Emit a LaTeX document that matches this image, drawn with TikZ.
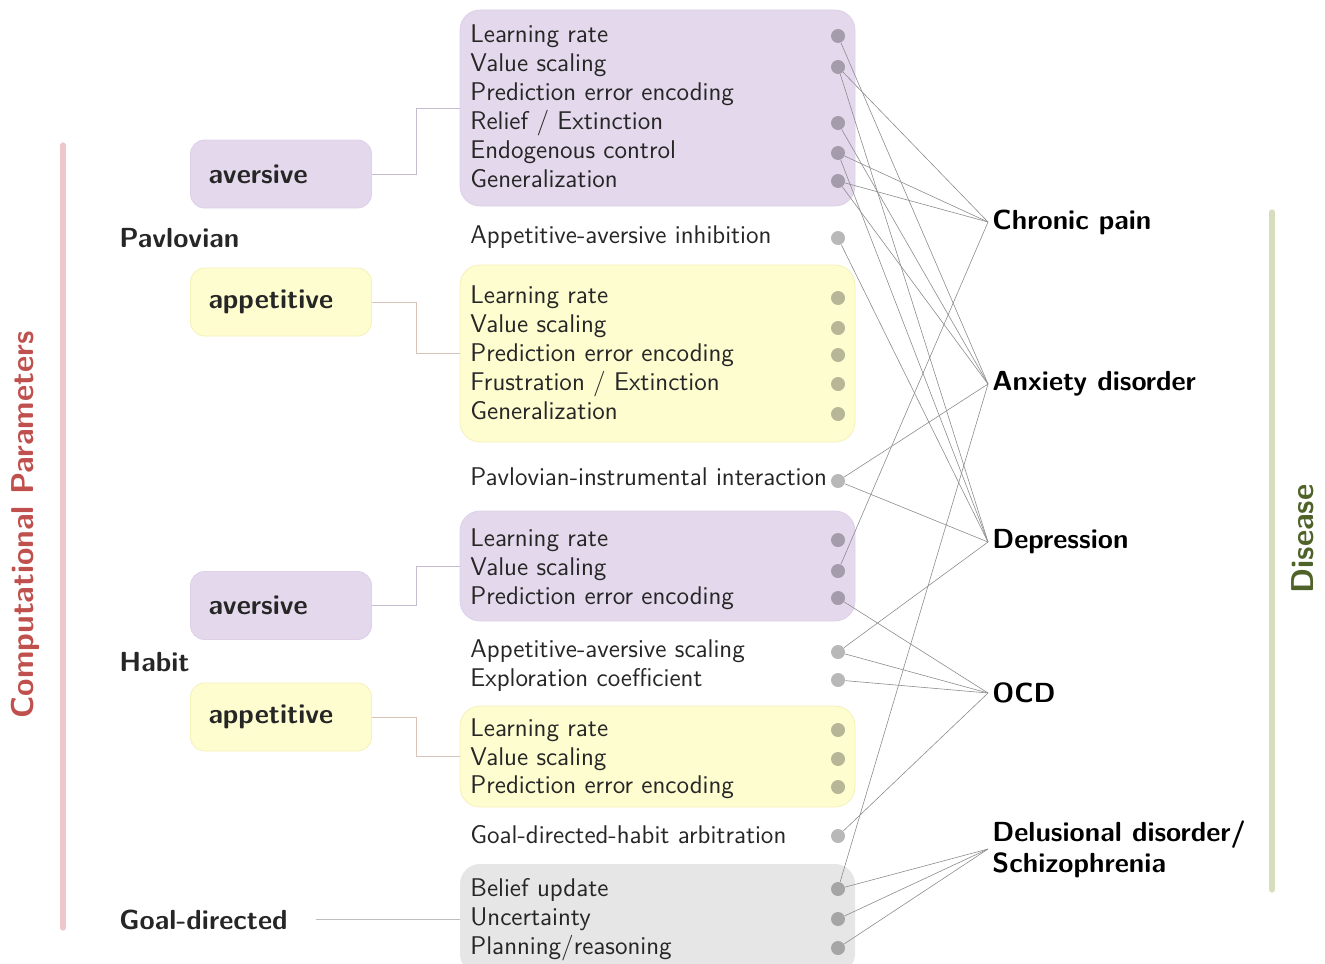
\documentclass[tikz,border=0pt]{standalone}
\usepackage{fontspec}
\usetikzlibrary{calc}
\definecolor{purplebox}{RGB}{228,217,236}
\definecolor{purpleedge}{RGB}{222,208,232}
\definecolor{yellowbox}{RGB}{254,253,208}
\definecolor{yellowedge}{RGB}{246,240,186}
\definecolor{graybox}{RGB}{230,230,230}
\definecolor{pinkbar}{RGB}{236,200,200}
\definecolor{greenbar}{RGB}{214,222,190}
\definecolor{redtxt}{RGB}{192,80,77}
\definecolor{greentxt}{RGB}{79,98,40}
\definecolor{txtgray}{RGB}{38,38,38}
\definecolor{linkgray}{RGB}{140,140,140}
\definecolor{elbowpurple}{RGB}{198,188,208}
\definecolor{elbowtan}{RGB}{216,196,184}
\definecolor{elbowgray}{RGB}{190,190,190}
\tikzset{
  param/.style={anchor=west, inner sep=0pt, text=txtgray, font=\sffamily\fontsize{12.8}{15}\selectfont, text height=9pt, text depth=2.7pt},
  pdot/.style={circle, fill=black, fill opacity=0.28, draw=none, minimum size=7pt, inner sep=0pt},
  cat/.style={anchor=west, inner sep=0pt, text=txtgray, font=\sffamily\bfseries\fontsize{13.8}{16}\selectfont},
  dis/.style={anchor=west, inner xsep=2pt, inner ysep=0pt, text=black, align=left, font=\sffamily\bfseries\fontsize{13.8}{15.5}\selectfont},
  sbox/.style={rounded corners=7pt, inner xsep=9pt, inner ysep=0pt, text width=72.5pt, minimum height=34pt, align=left, text=txtgray, font=\sffamily\bfseries\fontsize{13.8}{16}\selectfont},
  pbox/.style={rounded corners=10pt, inner sep=0pt, minimum width=197.5pt},
  link/.style={draw=linkgray, line width=0.3pt},
  elbow/.style={line width=0.5pt},
}
\begin{document}
\begin{tikzpicture}[x=0.5pt,y=-0.5pt]
\useasboundingbox (0,0) rectangle (1325,963);

% side bars and titles
\draw[pinkbar, line width=2.6pt, line cap=round] (63,145) -- (63,928);
\node[rotate=90, text=redtxt, inner sep=0pt, font=\sffamily\bfseries\fontsize{15.8}{18}\selectfont] (cptitle) at (25,525) {Computational Parameters};
\draw[greenbar, line width=2.6pt, line cap=round] (1272,212) -- (1272,890);
\node[rotate=90, text=greentxt, inner sep=0pt, font=\sffamily\bfseries\fontsize{15.8}{18}\selectfont] (distitle) at (1303,539) {Disease};

% parameter boxes
\node[pbox, fill=purplebox, draw=purpleedge, minimum height=98pt] (bpavav) at (657.5,108) {};
\node[pbox, fill=yellowbox, draw=yellowedge, minimum height=88.5pt] (bpavap) at (657.5,353.5) {};
\node[pbox, fill=purplebox, draw=purpleedge, minimum height=55pt] (bhabav) at (657.5,566) {};
\node[pbox, fill=yellowbox, draw=yellowedge, minimum height=50.5pt] (bhabap) at (657.5,756.5) {};
\node[pbox, fill=graybox, minimum height=55pt] (bgd) at (657.5,919) {};

% category labels
\node[cat] (pav) at (119,238) {Pavlovian};
\node[cat] (hab) at (119,662) {Habit};
\node[cat] (gd) at (119,920) {Goal-directed};

% small boxes
\node[sbox, fill=purplebox, draw=purpleedge] (pavav) at (281,174) {aversive};
\node[sbox, fill=yellowbox, draw=yellowedge] (pavap) at (281,302) {appetitive};
\node[sbox, fill=purplebox, draw=purpleedge] (habav) at (281,605.5) {aversive};
\node[sbox, fill=yellowbox, draw=yellowedge] (habap) at (281,717) {appetitive};

% elbow connectors
\draw[elbow, elbowpurple] (pavav.east) -- ++(45,0) |- (bpavav.west);
\draw[elbow, elbowtan] (pavap.east) -- ++(45,0) |- (bpavap.west);
\draw[elbow, elbowpurple] (habav.east) -- ++(45,0) |- (bhabav.west);
\draw[elbow, elbowtan] (habap.east) -- ++(45,0) |- (bhabap.west);
\coordinate (gdend) at (316,919);
\draw[elbow, elbowgray] (gdend) -- (bgd.west);

% parameter texts
\node[param] (t1) at (470,36) {Learning rate};
\node[param] (t2) at (470,65) {Value scaling};
\node[param] (t3) at (470,94) {Prediction error encoding};
\node[param] (t4) at (470,123) {Relief / Extinction};
\node[param] (t5) at (470,152) {Endogenous control};
\node[param] (t6) at (470,181) {Generalization};
\node[param] (t7) at (470,237) {Appetitive-aversive inhibition};
\node[param] (t8) at (470,297) {Learning rate};
\node[param] (t9) at (470,326) {Value scaling};
\node[param] (t10) at (470,355) {Prediction error encoding};
\node[param] (t11) at (470,384) {Frustration / Extinction};
\node[param] (t12) at (470,413) {Generalization};
\node[param] (t13) at (470,479) {Pavlovian-instrumental interaction};
\node[param] (t14) at (470,540) {Learning rate};
\node[param] (t15) at (470,569) {Value scaling};
\node[param] (t16) at (470,598) {Prediction error encoding};
\node[param] (t17) at (470,651) {Appetitive-aversive scaling};
\node[param] (t18) at (470,680) {Exploration coefficient};
\node[param] (t19) at (470,730) {Learning rate};
\node[param] (t20) at (470,759) {Value scaling};
\node[param] (t21) at (470,787) {Prediction error encoding};
\node[param] (t22) at (470,837) {Goal-directed-habit arbitration};
\node[param] (t23) at (470,890) {Belief update};
\node[param] (t24) at (470,919) {Uncertainty};
\node[param] (t25) at (470,948) {Planning/reasoning};

% dots
\node[pdot] (pa1) at (838,36) {};
\node[pdot] (pa2) at (838,67) {};
\node[pdot] (pa4) at (838,123) {};
\node[pdot] (pa5) at (838,153) {};
\node[pdot] (pa6) at (838,181) {};
\node[pdot] (ai) at (838,238) {};
\node[pdot] (pp1) at (838,298) {};
\node[pdot] (pp2) at (838,328) {};
\node[pdot] (pp3) at (838,355) {};
\node[pdot] (pp4) at (838,384) {};
\node[pdot] (pp5) at (838,414) {};
\node[pdot] (pit) at (838,481) {};
\node[pdot] (ha1) at (838,540) {};
\node[pdot] (ha2) at (838,571) {};
\node[pdot] (ha3) at (838,598) {};
\node[pdot] (as) at (838,652) {};
\node[pdot] (ex) at (838,680) {};
\node[pdot] (hp1) at (838,730) {};
\node[pdot] (hp2) at (838,759) {};
\node[pdot] (hp3) at (838,787) {};
\node[pdot] (arb) at (838,836) {};
\node[pdot] (gd1) at (838,889) {};
\node[pdot] (gd2) at (838,919) {};
\node[pdot] (gd3) at (838,948) {};

% diseases
\node[dis] (cp) at (988,222) {Chronic pain};
\node[dis] (anx) at (988,384) {Anxiety disorder};
\node[dis] (dep) at (988,542) {Depression};
\node[dis] (ocd) at (988,693) {OCD};
\node[dis] (del) at (988,849) {Delusional disorder/\\Schizophrenia};

% links
\foreach \s/\t in {pa1/anx, pa2/cp, pa2/dep, pa4/anx, pa5/cp, pa5/dep, pa6/cp, pa6/anx,
  ai/dep, pit/anx, pit/dep, ha2/cp, ha3/ocd, as/dep, as/ocd, ex/ocd, arb/ocd,
  gd1/anx, gd1/del, gd2/del, gd3/del}
  \draw[link] (\s) -- (\t.west);
\end{tikzpicture}
\end{document}
